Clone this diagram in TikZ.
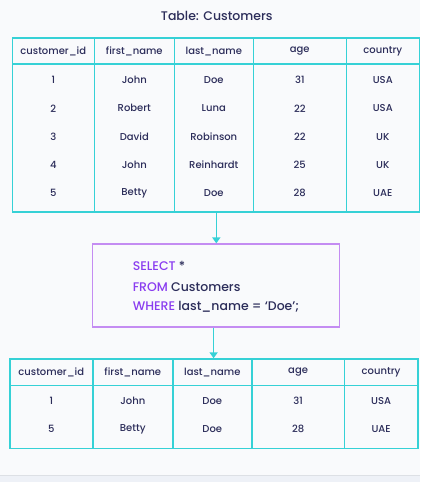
\documentclass[tikz,border=0pt]{standalone}
\usepackage{fontspec}
\setmainfont{Poppins}[UprightFont=* Medium]
\usepackage{tikz}
\usetikzlibrary{arrows.meta,positioning}
\definecolor{bgc}{HTML}{F9FAFC}
\definecolor{strip}{HTML}{EEF1F7}
\definecolor{tealc}{HTML}{36D1D6}
\definecolor{navy}{HTML}{2C2D5A}
\definecolor{kw}{HTML}{8A3DF0}
\definecolor{lilac}{HTML}{C48CF2}
\tikzstyle{arrow} = [tealc, line width=1.5pt, -{Triangle[width=8pt,length=6pt]}]
\tikzstyle{tbl} = [draw=tealc, line width=1.5pt, inner sep=0pt]
\tikzstyle{grid} = [tealc, line width=1.5pt]
\tikzstyle{cell} = [text=navy, font=\fontsize{10}{12}\selectfont, inner sep=0pt]
\tikzstyle{sql} = [text=navy, font=\fontsize{12.5}{14}\selectfont, anchor=west, inner sep=0pt]

\begin{document}
\begin{tikzpicture}[x=1pt,y=-1pt]
\fill[bgc] (0,0) rectangle (420,482);
\fill[strip] (0,475) rectangle (420,482);
\draw[color=strip!85!gray, line width=0.6pt] (0,475) -- (420,475);
\useasboundingbox (0,0) rectangle (420,482);

\node[text=navy, font=\fontsize{12.5}{14}\selectfont] (title) at (216.5,15.7) {Table: Customers};

% input table
\node[tbl, minimum width=407pt, minimum height=174pt] (customers) at (215.5,125) {};
\draw[grid] (12,64) -- (419,64);
\foreach \x in {94,174,253,346}
  \draw[grid] (\x,38) -- (\x,212);
\node[cell] (h1) at (53,51.5) {customer\_id};
\node[cell] (h2) at (134,51.5) {first\_name};
\node[cell] (h3) at (213.5,51.5) {last\_name};
\node[cell] (h4) at (299.5,51.5) {age};
\node[cell] (h5) at (382.5,51.5) {country};
\foreach \y/\i/\f/\l/\a/\c in {80/1/John/Doe/31/USA, 108.3/2/Robert/Luna/22/USA,
    136.7/3/David/Robinson/22/UK, 165/4/John/Reinhardt/25/UK, 193.3/5/Betty/Doe/28/UAE}
{
  \node[cell] (r\i-1) at (53,\y) {\i};
  \node[cell] (r\i-2) at (134,\y) {\f};
  \node[cell] (r\i-3) at (213.5,\y) {\l};
  \node[cell] (r\i-4) at (299.5,\y) {\a};
  \node[cell] (r\i-5) at (382.5,\y) {\c};
}

% query
\node[draw=lilac, line width=1.2pt, minimum width=247pt, minimum height=83pt, inner sep=0pt] (query) at (215.8,285.5) {};
\node[sql] (q1) at (132.3,266) {\textcolor{kw}{SELECT} *};
\node[sql] (q2) at (132.3,286.7) {\textcolor{kw}{FROM} Customers};
\node[sql] (q3) at (132.3,306.7) {\textcolor{kw}{WHERE} last\_name = ‘Doe’;};

% result table
\node[tbl, minimum width=408pt, minimum height=89.3pt] (result) at (213.5,403.7) {};
\draw[grid] (9.5,385.7) -- (417.5,385.7);
\foreach \x in {92.5,172.5,251.5,344}
  \draw[grid] (\x,359) -- (\x,448.3);
\node[cell] (k1) at (51,372.5) {customer\_id};
\node[cell] (k2) at (132.5,372.5) {first\_name};
\node[cell] (k3) at (212,372.5) {last\_name};
\node[cell] (k4) at (297.8,372.5) {age};
\node[cell] (k5) at (380.8,372.5) {country};
\foreach \y/\i/\f/\l/\a/\c in {400.7/1/John/Doe/31/USA, 429.3/5/Betty/Doe/28/UAE}
{
  \node[cell] (s\i-1) at (51,\y) {\i};
  \node[cell] (s\i-2) at (132.5,\y) {\f};
  \node[cell] (s\i-3) at (212,\y) {\l};
  \node[cell] (s\i-4) at (297.8,\y) {\a};
  \node[cell] (s\i-5) at (380.8,\y) {\c};
}

\draw[arrow] (customers.south -| 216,0) -- (query.north -| 216,0);
\draw[arrow] (query.south -| 213.3,0) -- (result.north -| 213.3,0);
\end{tikzpicture}
\end{document}
